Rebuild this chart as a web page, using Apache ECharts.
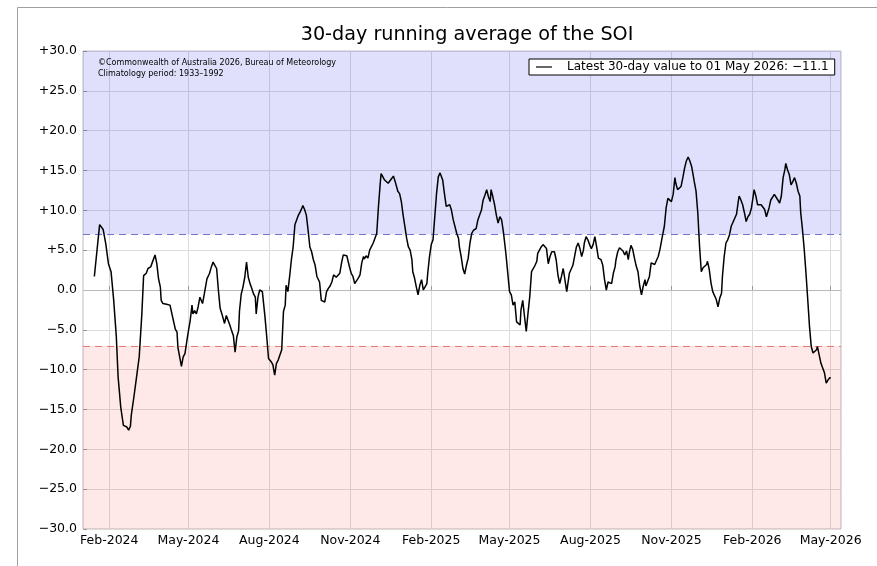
<!DOCTYPE html>
<html>
<head>
<meta charset="utf-8">
<script src="https://cdn.jsdelivr.net/npm/echarts@6/dist/echarts.min.js"></script>
<style>html,body{margin:0;padding:0;background:#fff;}#c{width:877px;height:566px;}</style>
</head>
<body>
<div id="c"></div>
<script>
// Day offsets from 2024-01-01 paired with 30-day SOI values
const soiEarly2024 = [[14,1.7],[20,8.2],[22,8.0],[24,7.6],[27,5.8],[30,3.3],[33,2.3],[36,-1.3],[39,-5.9],[41,-10.9],[44,-14.7],[47,-17.0],[51,-17.2],[53,-17.6],[55,-17.1],[56,-15.7],[59,-13.4],[62,-10.9],[65,-8.4],[68,-3.0],[70,1.8],[73,2.1],[75,2.7],[78,2.9],[80,3.5],[83,4.4],[85,3.3],[87,1.4],[89,0.4],[90,-1.3],[92,-1.7],[96,-1.8],[100,-1.9],[103,-3.4],[106,-4.9],[108,-5.3],[109,-7.2],[111,-8.4],[113,-9.6],[115,-8.4],[117,-8.0],[119,-6.5],[121,-5.1],[123,-3.8],[125,-1.9],[126,-3.0],[128,-2.6],[130,-3.0],[132,-2.1],[134,-0.9],[137,-1.7],[139,-0.5],[141,-0.3],[142,1.4],[145,2.1],[147,2.9],[149,3.5],[151,3.1],[153,2.7],[155,0],[157,-2.3],[159,-3.0],[161,-3.2],[162,-4.2],[164,-3.2],[166,-3.8],[168,-4.4],[170,-5.1],[172,-5.7],[174,-7.8],[176,-5.9],[178,-5.1],[179,-2.6],[181,-0.5],[183,0.4],[185,1.6],[187,3.5],[189,1.6],[191,0.8],[193,0.2],[195,-0.5],[197,-0.9],[198,-3.0],[200,-0.9]];
const soiLate2024 = [[202,0],[205,-0.2],[208,-3.4],[210,-5.9],[212,-8.6],[214,-8.7],[215,-9.0],[217,-9.4],[219,-10.7],[221,-9.2],[223,-8.8],[225,-9.0],[227,-7.5],[229,-2.7],[231,-1.9],[232,0.6],[234,-0.2],[236,1.7],[238,3.8],[240,5.4],[242,8.2],[244,8.0],[246,9.4],[248,9.8],[250,10.3],[251,10.6],[253,10.1],[255,9.4],[257,7.5],[259,5.4],[261,4.8],[263,3.8],[265,3.1],[267,1.7],[268,1.5],[270,1.0],[272,-1.3],[274,-1.5],[276,-1.5],[278,-0.2],[280,0.2],[282,0.5],[284,1.0],[286,1.9],[287,2.1],[289,1.6],[291,1.7],[293,2.1],[295,3.4],[297,4.4],[299,4.2],[301,4.3],[303,4.1],[304,2.9],[306,2.1],[308,1.7],[310,0.8],[312,1.0],[314,1.5],[316,1.9],[318,3.4],[320,4.2],[321,3.9],[323,4.3],[325,4.0],[327,5.0],[329,5.2],[331,5.9],[333,6.5],[335,7.1],[337,10.5],[339,13.4],[340,14.6],[342,14.5],[344,13.8],[346,13.9],[348,13.4],[350,13.6],[352,14.0],[354,14.3],[356,13.6],[357,13.8],[359,12.4],[361,12.1],[363,11.1],[365,9.4],[367,8.0],[369,6.5],[371,5.4],[373,5.0],[375,3.8],[376,2.3],[378,1.5],[380,0.4],[382,-0.6],[384,0.6],[386,1.3],[388,0],[390,0.2],[392,0.8],[393,2.1],[395,4.2],[397,5.7],[399,6.3],[401,9.2],[403,12.1],[405,14.2]];
const soi2025 = [[407,14.7],[409,14.5],[410,13.8],[412,12.1],[414,10.5],[416,10.3],[418,10.7],[420,10.0],[422,8.8],[424,8.6],[426,7.1],[428,6.5],[429,5.4],[431,4.2],[433,2.7],[435,2.0],[437,3.1],[439,4.0],[441,5.9],[443,7.1],[445,7.5],[446,7.7],[448,7.7],[450,8.8],[452,9.4],[454,10.0],[456,11.3],[458,11.9],[460,12.6],[462,11.7],[464,11.1],[465,12.6],[467,11.7],[469,10.7],[471,9.4],[473,8.4],[475,9.2],[477,8.8],[479,7.3],[481,5.4],[482,4.4],[484,4.2],[486,-0.2],[488,-0.6],[490,-1.9],[492,-1.5],[494,-4.0],[496,-4.2],[498,-4.4],[499,-2.5],[501,-1.3],[503,-3.3],[505,-5.2],[507,-2.9],[509,-0.8],[511,2.3],[513,2.7],[515,3.1],[517,3.6],[518,4.6],[520,5.0],[522,5.4],[524,5.7],[526,5.9],[528,5.2],[530,3.3],[532,4.2],[534,4.8],[535,5.0],[537,4.8],[539,3.8],[541,1.9],[543,0.8],[545,1.7],[547,2.7],[549,2.5],[551,-0.2],[552,-0.2],[554,2.1],[556,2.3],[558,3.1],[560,3.3],[562,5.4],[564,5.9],[566,5.2],[568,4.2],[570,5.0],[571,5.9],[573,6.7],[575,6.3],[577,5.7],[579,5.2],[581,5.7],[583,6.7],[585,5.4],[587,4.0],[588,4.2],[590,3.8],[592,3.1],[594,1.3],[596,0],[598,1.0],[600,1.0],[602,0.8],[604,2.1],[606,2.9],[607,3.8],[609,4.8]];
const soiLate2025_2026 = [[611,5.3],[613,5.1],[615,4.9],[617,4.4],[619,4.9],[621,3.8],[622,4.6],[624,5.6],[626,5.1],[628,4.0],[630,3.0],[632,2.3],[634,0.5],[636,-0.6],[638,0.5],[640,1.3],[641,0.5],[643,0.3],[645,1.7],[647,3.4],[649,3.4],[651,3.2],[653,3.0],[655,4.2],[657,5.1],[658,5.7],[660,6.9],[662,8.0],[664,10.3],[666,11.5],[668,11.3],[670,11.1],[672,12.0],[674,14.1],[675,13.4],[677,12.6],[679,12.8],[681,13.0],[683,14.1],[685,15.3],[687,16.2],[689,16.7],[691,16.2],[693,15.5],[694,14.9],[696,13.6],[698,12.4],[700,9.7],[702,5.5],[704,2.3],[706,2.8],[708,3.0],[710,3.2],[711,3.6],[713,2.6],[715,0.9],[717,-0.2],[719,-0.4],[721,-1.2],[723,-2.1],[725,-1.0],[727,-0.4],[728,1.7],[730,4.2],[732,5.9],[734,6.3],[736,6.9],[738,8.0],[740,8.2],[742,9.0],[744,9.5],[746,11.1],[747,11.8],[749,11.3],[751,10.7],[753,9.7],[755,8.6],[757,9.2],[759,9.5],[761,10.3],[763,11.8],[764,12.6],[766,11.8],[768,10.7],[770,10.5],[772,10.7],[774,10.9],[776,10.1],[778,9.2],[780,9.0],[781,10.3],[783,11.3],[785,11.5],[787,12.0],[789,11.8],[791,11.3],[793,10.9],[795,11.8],[797,14.1],[799,15.1],[800,15.9],[802,15.1],[804,14.5],[806,13.2],[808,13.6],[810,14.1],[812,13.4],[814,12.4],[816,11.8],[817,9.7],[819,7.6],[821,5.1],[823,2.1],[825,-1.2],[827,-4.6],[829,-7.1],[831,-7.9],[833,-8.1],[835,-7.5],[836,-7.1],[838,-7.3],[840,-9.2],[842,-9.4],[844,-10.4],[846,-11.7],[848,-11.3],[850,-11.0],[851,-11.1]];

// Month-start ticks (day offsets from 2024-01-01) and their labels
const xTickDays = [31, 121, 213, 305, 397, 486, 578, 670, 762, 851];
const xTickLabels = ['Feb-2024','May-2024','Aug-2024','Nov-2024','Feb-2025','May-2025','Aug-2025','Nov-2025','Feb-2026','May-2026'];
const xRangeDays = [1.1, 862.8];
const yRange = [-30, 30];
const thresholds = [7, -7];
const titleText = '30-day running average of the SOI';
const legendText = 'Latest 30-day value to 01 May 2026: \u221211.1';
const creditLines = ['\u00A9Commonwealth of Australia 2026, Bureau of Meteorology', 'Climatology period: 1933\u20131992'];

const allData = [].concat(soiEarly2024, soiLate2024, soi2025, soiLate2025_2026);
const FONT = 'DejaVu Sans';

const chart = echarts.init(document.getElementById('c'), null, {renderer: 'canvas'});
chart.setOption({
  animation: false,
  backgroundColor: '#fff',
  title: {
    text: titleText, left: 462, top: 21, textAlign: 'center',
    textStyle: {fontFamily: FONT, fontSize: 19.2, fontWeight: 'normal', color: '#000'}
  },
  graphic: [
    {type: 'line', shape: {x1: 17.5, y1: 7.5, x2: 877, y2: 7.5}, style: {stroke: '#a0a0a0', lineWidth: 1}, silent: true},
    {type: 'line', shape: {x1: 17.5, y1: 7.5, x2: 17.5, y2: 566}, style: {stroke: '#a0a0a0', lineWidth: 1}, silent: true},
    {type: 'text', left: 98, top: 59, z: 100, style: {text: creditLines[0], font: '8px "DejaVu Sans"', fill: '#000'}},
    {type: 'text', left: 98, top: 70, z: 100, style: {text: creditLines[1], font: '8px "DejaVu Sans"', fill: '#000'}}
  ],
  legend: {
    left: 529, top: 59,
    padding: [2, 6, 2, 7],
    backgroundColor: '#fff', borderColor: '#000', borderWidth: 1, borderRadius: 0,
    icon: 'rect', itemWidth: 16, itemHeight: 1.2,
    textStyle: {fontFamily: FONT, fontSize: 12, color: '#000', padding: [0, 0, 0, 10]},
    data: [legendText]
  },
  grid: {left: 83, right: 36, top: 51, bottom: 37, show: true, borderColor: '#bdbdbd', borderWidth: 1, backgroundColor: 'transparent'},
  xAxis: {
    type: 'value', min: xRangeDays[0], max: xRangeDays[1],
    axisLine: {show: false},
    axisTick: {show: true, inside: true, length: 4, lineStyle: {color: '#999'}, customValues: xTickDays},
    axisLabel: {
      customValues: xTickDays, margin: 5, fontFamily: FONT, fontSize: 12.5, color: '#000',
      formatter: v => { const i = xTickDays.indexOf(v); return i >= 0 ? xTickLabels[i] : ''; }
    },
    splitLine: {show: true, lineStyle: {color: '#dcdcdc', width: 1}}
  },
  yAxis: {
    type: 'value', min: yRange[0], max: yRange[1], interval: 5,
    axisLine: {show: false},
    axisTick: {show: true, inside: true, length: 4, lineStyle: {color: '#999'}},
    axisLabel: {
      margin: 6, fontFamily: FONT, fontSize: 12.5, color: '#000',
      formatter: v => v > 0 ? '+' + v.toFixed(1) : (v < 0 ? '\u2212' + Math.abs(v).toFixed(1) : '0.0')
    },
    splitLine: {show: true, lineStyle: {color: '#dcdcdc', width: 1}}
  },
  series: [{
    name: legendText,
    type: 'line',
    data: allData,
    showSymbol: false, symbol: 'none',
    lineStyle: {color: '#000', width: 1.5},
    itemStyle: {color: '#000'},
    z: 5,
    markArea: {
      silent: true,
      data: [
        [{yAxis: thresholds[0], itemStyle: {color: 'rgba(0,0,230,0.122)'}}, {yAxis: yRange[1]}],
        [{yAxis: yRange[0], itemStyle: {color: 'rgba(240,0,0,0.09)'}}, {yAxis: thresholds[1]}]
      ]
    },
    markLine: {
      silent: true, symbol: 'none', label: {show: false},
      data: [
        {yAxis: 0, lineStyle: {color: '#b8b8b8', type: 'solid', width: 1}},
        {yAxis: thresholds[0], lineStyle: {color: '#7474d0', type: [7, 5], width: 1}},
        {yAxis: thresholds[1], lineStyle: {color: '#e67a7a', type: [7, 5], width: 1}}
      ]
    }
  }]
});
</script>
</body>
</html>
